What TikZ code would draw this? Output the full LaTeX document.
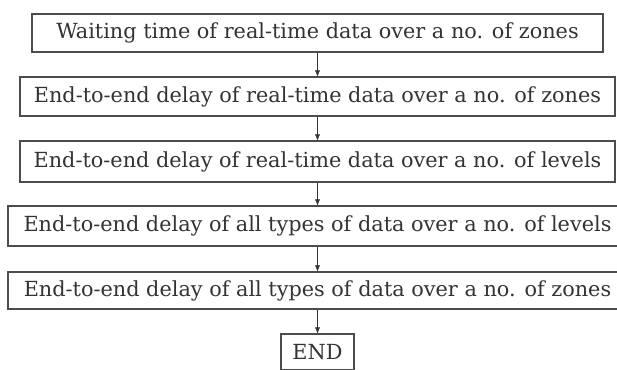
\documentclass[tikz,border=0pt]{standalone}
\usepackage{fontspec}
\setmainfont{DejaVu Serif}
\usetikzlibrary{positioning}
\usetikzlibrary{arrows.meta}

\tikzset{
    stepbox/.style={draw=black!70, line width=1.1pt, text=black!80, font=\fontsize{20.8}{24}\selectfont},
    flowarrow/.style={-{Latex[length=6pt,width=5pt]}, black!80}
}

\begin{document}
\begin{tikzpicture}[x=1pt, y=-1pt]
    \useasboundingbox (0,0) rectangle (617,369);
    %Waiting time
    \node[stepbox, minimum height=38pt, minimum width=571pt] at (317.5,33) (wait) {Waiting time of real-time data over a no. of zones};
    %Delay zones
    \node[stepbox, minimum height=39pt, minimum width=595pt] at (317.5,96.5) (rtzones) {End-to-end delay of real-time data over a no. of zones};
    %Delay levels
    \node[stepbox, minimum height=41pt, minimum width=595pt] at (317.5,161.5) (rtlevels) {End-to-end delay of real-time data over a no. of levels};
    %All types levels
    \node[stepbox, minimum height=40pt, minimum width=619pt] at (317.5,226) (alllevels) {End-to-end delay of all types of data over a no. of levels};
    %All types zones
    \node[stepbox, minimum height=37pt, minimum width=619pt] at (317.5,290.5) (allzones) {End-to-end delay of all types of data over a no. of zones};
    %END
    \node[stepbox, minimum height=36pt, minimum width=73pt] at (317.5,352) (ende) {END};

    %Waiting to Delay zones
    \draw[flowarrow] (wait) -- (rtzones);
    %Delay zones to Delay levels
    \draw[flowarrow] (rtzones) -- (rtlevels);
    %Delay levels to All types levels
    \draw[flowarrow] (rtlevels) -- (alllevels);
    %All types levels to All types zones
    \draw[flowarrow] (alllevels) -- (allzones);
    %All types zones to END
    \draw[flowarrow] (allzones) -- (ende);
\end{tikzpicture}
\end{document}
